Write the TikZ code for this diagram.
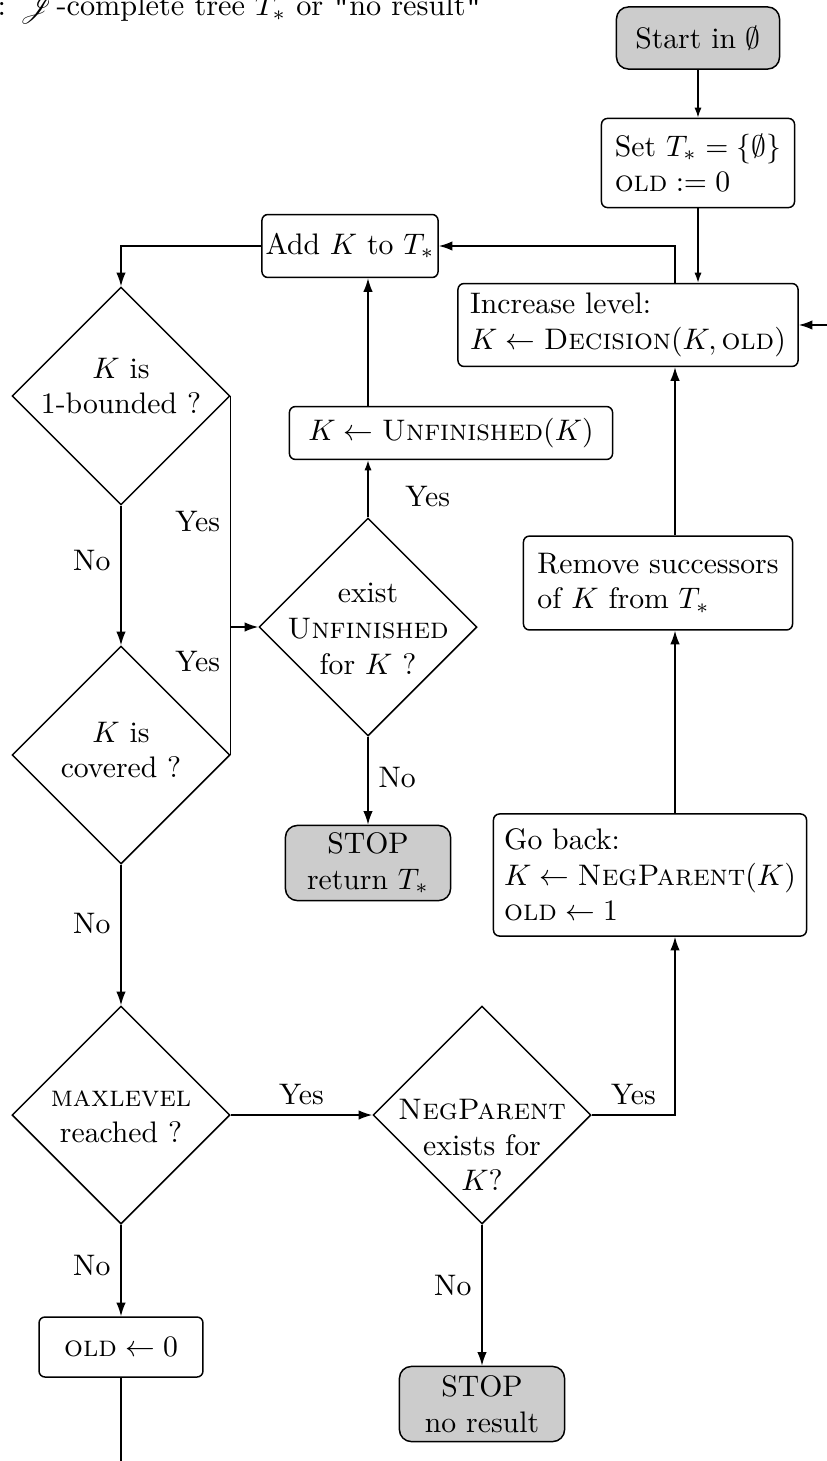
\documentclass[tikz,border=0pt]{standalone}
\usepackage{xcolor}
\usepackage{mathrsfs}
\usepackage{tikz}
\usetikzlibrary{shapes.geometric, shapes.misc, arrows.meta, positioning}

\begin{document}
\begin{tikzpicture}[x=0.3367pt, y=-0.3367pt, auto, >={Latex[length=4.6pt, width=3.2pt]}, line width=0.5pt,
    decision/.style={draw, diamond, aspect=1, minimum width=73.4pt, minimum height=73.4pt, inner sep=0pt},
    dtext/.style={align=center, inner sep=0pt},
    process/.style={draw, rectangle, rounded corners=2pt, align=left, inner sep=2pt},
    startstop/.style={draw, rectangle, rounded corners=4pt, align=center, fill=gray!40, minimum width=55.6pt, minimum height=25.3pt, inner sep=1pt},
    smallarrow/.style={-{Latex[length=3.4pt, width=2.4pt]}}]

    \useasboundingbox (0,0) rectangle (827,1461);

    % Nodes
    \node (title) [anchor=base west, inner sep=0pt, font=\fontsize{10.2}{12}\selectfont] at (-3,16) {: $\mathscr{J}$-complete tree $T_*$ or \texttt{"}no result\texttt{"}};
    \node (start) [startstop, minimum width=54.9pt, minimum height=20.9pt] at (698,38) {Start in $\emptyset$};
    \node (setT) [process, minimum width=65pt, minimum height=30pt] at (698,163) {Set $T_* = \{\emptyset\}$\\ $\textsc{old} := 0$};
    \node (addK) [process, inner xsep=1pt, minimum width=59.3pt, minimum height=21.2pt] at (350,246) {Add $K$ to $T_*$};
    \node (incr) [process, minimum width=114.5pt, minimum height=27.9pt] at (628,325) {Increase level:\\ $K \leftarrow \textsc{Decision}(K, \textsc{old})$};
    \node (unfin) [process, minimum width=108.8pt, minimum height=17.8pt] at (451,433) {$K \leftarrow \textsc{Unfinished}(K)$};
    \node (remove) [process, minimum width=90.6pt, minimum height=31.6pt] at (658,583) {Remove successors\\ of $K$ from $T_*$};
    \node (goback) [process, minimum width=105.4pt, minimum height=41.1pt] at (650,875) {Go back:\\ $K \leftarrow \textsc{NegParent}(K)$\\ $\textsc{old} \leftarrow 1$};
    \node (oldzero) [process, minimum width=55.2pt, minimum height=20.2pt] at (121,1347) {$\textsc{old} \leftarrow 0$};
    \node (stopT) [startstop] at (368,863) {STOP\\ return $T_*$};
    \node (stopN) [startstop] at (482,1404) {STOP\\ no result};

    \node (bnd) [decision] at (121,396) {};
    \node (cov) [decision] at (121,755) {};
    \node (exist) [decision] at (368,627) {};
    \node (maxl) [decision] at (121,1115) {};
    \node (negp) [decision] at (482,1115) {};

    \node (bnd-t) [dtext] at (121,386) {$K$ is\\ 1-bounded ?};
    \node (cov-t) [dtext] at (121,750) {$K$ is\\ covered ?};
    \node (exist-t) [dtext] at (368,629) {exist\\ \textsc{Unfinished}\\ for $K$ ?};
    \node (maxl-t) [dtext] at (121,1117) {\textsc{maxlevel}\\ reached ?};
    \node (negp-t) [dtext] at (482,1145) {\textsc{NegParent}\\ exists for\\ $K$?};

    \coordinate (spine) at (675,0);
    \coordinate (loop) at (840,325);
    \coordinate (down) at (121,1475);

    % Links
    \draw[smallarrow] (start) -- (setT);
    \draw[smallarrow] (setT) -- (setT |- incr.north);
    \draw[->] (incr.north -| spine) |- (addK.east);
    \draw[->] (loop) -- (incr.east);
    \draw[->] (remove.north -| spine) -- (incr.south -| spine);
    \draw[->] (goback.north -| spine) -- (remove.south -| spine);
    \draw[->] (negp.east) -| node[pos=0.25, above] {Yes} (goback.south -| spine);
    \draw[->] (addK.west) -| (bnd.north);
    \draw[->] (bnd) -- node[left, pos=0.39] {No} (cov);
    \draw (bnd.east) -- node[left, pos=0.35] {Yes} node[left, pos=0.74] {Yes} (cov.east);
    \draw[->] (bnd.east |- exist.west) -- (exist.west);
    \draw[smallarrow] (exist) -- node[right=9pt, pos=0.36] {Yes} (exist.north |- unfin.south);
    \draw[->] (exist.north |- unfin.north) -- (exist.north |- addK.south);
    \draw[->] (exist) -- node[right, pos=0.46] {No} (stopT);
    \draw[->] (cov) -- node[left, pos=0.42] {No} (maxl);
    \draw[->] (maxl) -- node[above] {Yes} (negp);
    \draw[->] (maxl) -- node[left, pos=0.45] {No} (oldzero);
    \draw[->] (negp) -- node[left, pos=0.43] {No} (stopN);
    \draw (oldzero) -- (down);
\end{tikzpicture}
\end{document}
